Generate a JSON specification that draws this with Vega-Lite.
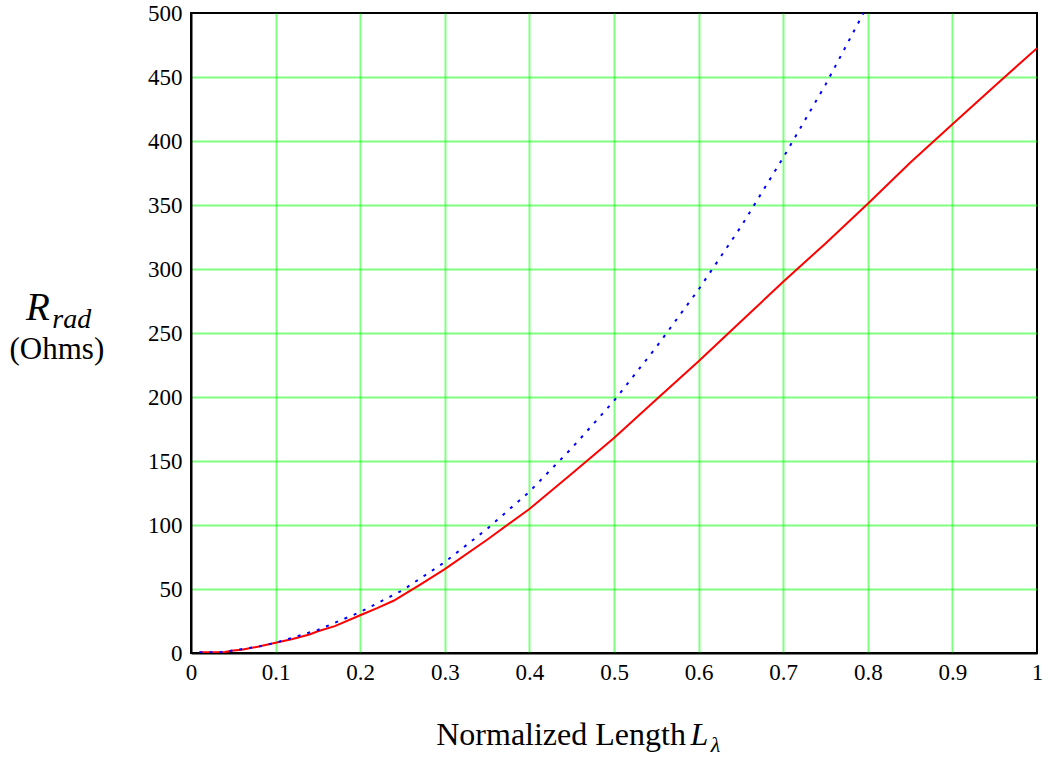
{
  "$schema": "https://vega.github.io/schema/vega-lite/v6.json",
  "width": 846,
  "height": 640,
  "autosize": "none",
  "padding": {"left": 191, "top": 13, "right": 11, "bottom": 111},
  "background": "white",
  "config": {
    "view": {"stroke": "black", "strokeWidth": 2},
    "font": "Liberation Serif"
  },
  "datasets": {
    "red": [
      {"L": 0.01, "R": 0.5}, {"L": 0.03, "R": 0.5}, {"L": 0.04, "R": 0.7}, {"L": 0.05, "R": 2},
      {"L": 0.06, "R": 2.5}, {"L": 0.08, "R": 5}, {"L": 0.1, "R": 8}, {"L": 0.12, "R": 11},
      {"L": 0.14, "R": 14.5}, {"L": 0.15, "R": 17}, {"L": 0.17, "R": 21}, {"L": 0.2, "R": 29.5},
      {"L": 0.22, "R": 35}, {"L": 0.24, "R": 41}, {"L": 0.25, "R": 45}, {"L": 0.27, "R": 53},
      {"L": 0.3, "R": 65.5}, {"L": 0.35, "R": 88.5}, {"L": 0.4, "R": 112.5}, {"L": 0.45, "R": 140},
      {"L": 0.5, "R": 168}, {"L": 0.55, "R": 198}, {"L": 0.6, "R": 228}, {"L": 0.65, "R": 259},
      {"L": 0.7, "R": 290}, {"L": 0.75, "R": 320}, {"L": 0.8, "R": 351}, {"L": 0.85, "R": 383},
      {"L": 0.9, "R": 413}, {"L": 0.95, "R": 443}, {"L": 1.0, "R": 472.5}
    ],
    "blue": [
      {"L": 0.01, "R": 0.5}, {"L": 0.03, "R": 0.5}, {"L": 0.04, "R": 1}, {"L": 0.05, "R": 2},
      {"L": 0.08, "R": 5}, {"L": 0.1, "R": 8}, {"L": 0.15, "R": 18}, {"L": 0.2, "R": 32},
      {"L": 0.25, "R": 49}, {"L": 0.3, "R": 71}, {"L": 0.35, "R": 97}, {"L": 0.4, "R": 126},
      {"L": 0.45, "R": 160}, {"L": 0.5, "R": 197}, {"L": 0.55, "R": 239}, {"L": 0.6, "R": 284},
      {"L": 0.65, "R": 333}, {"L": 0.7, "R": 387}, {"L": 0.75, "R": 444}, {"L": 0.795, "R": 500}
    ],
    "one": [{}]
  },
  "layer": [
    {
      "data": {"name": "red"},
      "mark": {"type": "line", "color": "#ff0000", "strokeWidth": 2, "clip": true},
      "encoding": {
        "x": {
          "field": "L", "type": "quantitative",
          "scale": {"domain": [0, 1], "nice": false, "zero": false},
          "axis": {
            "values": [0, 0.1, 0.2, 0.3, 0.4, 0.5, 0.6, 0.7, 0.8, 0.9, 1],
            "format": "~g",
            "title": null,
            "grid": true, "gridColor": "#00ff00", "gridWidth": 2,
            "gridOpacity": {"condition": {"test": "datum.value === 0 || datum.value === 1", "value": 0}, "value": 0.5},
            "domainColor": "black", "domainWidth": 2,
            "ticks": false,
            "labelFont": "Liberation Serif", "labelFontSize": 23, "labelColor": "black",
            "labelPadding": 8, "labelFlush": false
          }
        },
        "y": {
          "field": "R", "type": "quantitative",
          "scale": {"domain": [0, 500], "nice": false},
          "axis": {
            "values": [0, 50, 100, 150, 200, 250, 300, 350, 400, 450, 500],
            "title": null,
            "grid": true, "gridColor": "#00ff00", "gridWidth": 2,
            "gridOpacity": {"condition": {"test": "datum.value === 0 || datum.value === 500", "value": 0}, "value": 0.5},
            "domainColor": "black", "domainWidth": 2,
            "ticks": false,
            "labelFont": "Liberation Serif", "labelFontSize": 23, "labelColor": "black",
            "labelPadding": 9, "labelFlush": false
          }
        }
      }
    },
    {
      "data": {"name": "blue"},
      "mark": {"type": "line", "color": "#0000ff", "strokeWidth": 2, "strokeDash": [3, 7], "clip": true},
      "encoding": {
        "x": {"field": "L", "type": "quantitative"},
        "y": {"field": "R", "type": "quantitative"}
      }
    },
    {
      "data": {"name": "one"},
      "mark": {"type": "text", "text": "R", "font": "Liberation Serif", "fontStyle": "italic", "fontSize": 39, "align": "left", "baseline": "alphabetic", "color": "black"},
      "encoding": {"x": {"datum": -0.195}, "y": {"datum": 260}}
    },
    {
      "data": {"name": "one"},
      "mark": {"type": "text", "text": "rad", "font": "Liberation Serif", "fontStyle": "italic", "fontSize": 28, "align": "left", "baseline": "alphabetic", "color": "black"},
      "encoding": {"x": {"datum": -0.164}, "y": {"datum": 254}}
    },
    {
      "data": {"name": "one"},
      "mark": {"type": "text", "text": "(Ohms)", "font": "Liberation Serif", "fontSize": 31, "align": "center", "baseline": "alphabetic", "color": "black"},
      "encoding": {"x": {"datum": -0.1585}, "y": {"datum": 229.5}}
    },
    {
      "data": {"name": "one"},
      "mark": {"type": "text", "text": "Normalized Length", "font": "Liberation Serif", "fontSize": 32, "align": "right", "baseline": "alphabetic", "color": "black"},
      "encoding": {"x": {"datum": 0.585}, "y": {"datum": -72}}
    },
    {
      "data": {"name": "one"},
      "mark": {"type": "text", "text": "L", "font": "Liberation Serif", "fontStyle": "italic", "fontSize": 32, "align": "left", "baseline": "alphabetic", "color": "black"},
      "encoding": {"x": {"datum": 0.5905}, "y": {"datum": -72}}
    },
    {
      "data": {"name": "one"},
      "mark": {"type": "text", "text": "λ", "font": "Liberation Serif", "fontStyle": "italic", "fontSize": 22, "align": "left", "baseline": "alphabetic", "color": "black"},
      "encoding": {"x": {"datum": 0.6145}, "y": {"datum": -77}}
    }
  ]
}
